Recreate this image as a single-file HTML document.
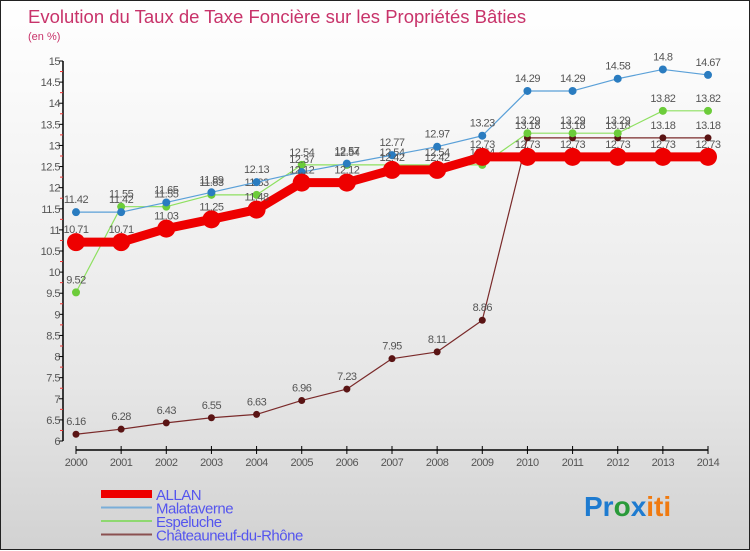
<!DOCTYPE html>
<html><head><meta charset="utf-8"><style>
body{margin:0;width:750px;height:550px;overflow:hidden;font-family:"Liberation Sans",sans-serif}
#wrap{position:relative;width:748px;height:548px;border:1px solid #222;background:linear-gradient(#fff,#fafafa 15%,#e6e6e6 70%,#d2d2d2)}
svg{position:absolute;left:0;top:0}
</style></head><body>
<div id="wrap">
<svg id="c" width="750" height="550">
<text x="27" y="22" font-size="18.5" fill="#c8336a">Evolution du Taux de Taxe Foncière sur les Propriétés Bâties</text>
<text x="27" y="39" font-size="11" fill="#c8336a">(en %)</text>
<g id="axes"></g><g id="series"></g><g id="legend"></g>
<text x="583" y="515" font-size="28" font-family="Liberation Sans" font-weight="bold"><tspan fill="#1e7bd0">Pr</tspan><tspan fill="#2a9a3a">o</tspan><tspan fill="#1e7bd0">x</tspan><tspan fill="#f07a10">iti</tspan></text>
</svg></div>
<script>
const years=[2000,2001,2002,2003,2004,2005,2006,2007,2008,2009,2010,2011,2012,2013,2014];
const yTicks=[6,6.5,7,7.5,8,8.5,9,9.5,10,10.5,11,11.5,12,12.5,13,13.5,14,14.5,15];
const allan=[10.71,10.71,11.03,11.25,11.48,12.12,12.12,12.42,12.42,12.73,12.73,12.73,12.73,12.73,12.73];
const malataverne=[11.42,11.42,11.65,11.89,12.13,12.37,12.57,12.77,12.97,13.23,14.29,14.29,14.58,14.8,14.67];
const espeluche=[9.52,11.55,11.55,11.83,11.83,12.54,12.54,12.54,12.54,12.54,13.29,13.29,13.29,13.82,13.82];
const chateauneuf=[6.16,6.28,6.43,6.55,6.63,6.96,7.23,7.95,8.11,8.86,13.18,13.18,13.18,13.18,13.18];
const NS="http://www.w3.org/2000/svg";
const X=i=>75+i*(707-75)/(years.length-1);
const Y=v=>440-(v-6)*(380/9);
function mk(t,a,p){const e=document.createElementNS(NS,t);for(const k in a)e.setAttribute(k,a[k]);p.appendChild(e);return e;}
const ax=document.getElementById('axes');
let l=mk('line',{x1:62,y1:60,x2:62,y2:440,stroke:'#000','stroke-width':1.5},ax);


l=mk('line',{x1:75,y1:449,x2:707,y2:449,stroke:'#000','stroke-width':1.5},ax);


yTicks.forEach((v,i)=>{
 mk('line',{x1:58,y1:Y(v),x2:62,y2:Y(v),stroke:'#000'},ax);
 if(i<yTicks.length-1)mk('line',{x1:59,y1:Y(v+0.25),x2:62,y2:Y(v+0.25),stroke:'#e33'},ax);
 const t=mk('text',{x:59,y:Y(v)+4,'font-size':11,'text-anchor':'end',fill:'#555','letter-spacing':'-0.5'},ax);
 t.textContent=v;
 
 
});
years.forEach((yr,i)=>{
 mk('line',{x1:X(i),y1:445,x2:X(i),y2:453,stroke:'#000'},ax);
 const t=mk('text',{x:X(i),y:465,'font-size':11,'text-anchor':'middle',fill:'#555','letter-spacing':'-0.5'},ax);
 t.textContent=yr;
 
 
});
const sg=document.getElementById('series');
const defs=[
 {d:chateauneuf,c:'#7a2a2a',w:1.2,r:3.5,fc:'#5a1414',n:'chateauneuf'},
 {d:espeluche,c:'#8ee060',w:1.2,r:4,fc:'#6ccc3a',n:'espeluche'},
 {d:malataverne,c:'#5aa0d8',w:1.2,r:4,fc:'#2a7cc0',n:'malataverne'},
 {d:allan,c:'#ee0000',w:9,r:9,fc:'#ee0000',n:'allan'}];
defs.forEach(s=>{
 const g=mk('g',{},sg);
 
 
 const p=mk('polyline',{points:s.d.map((v,i)=>X(i)+','+Y(v)).join(' '),fill:'none',stroke:s.c,'stroke-width':s.w,'stroke-linejoin':'round'},g);
 
 
 s.d.forEach((v,i)=>{
  const c=mk('circle',{cx:X(i),cy:Y(v),r:s.r,fill:s.fc},g);
  
  
  const t=mk('text',{x:X(i),y:Y(v)-9,'font-size':11,'text-anchor':'middle',fill:'#555','letter-spacing':'-0.5'},g);
  t.textContent=v;
  
  
 });
});
const lg=document.getElementById('legend');
[['ALLAN','#ee0000',8],['Malataverne','#7aaed8',2],['Espeluche','#8ed870',2],['Châteauneuf-du-Rhône','#8a5050',2]].forEach((e,i)=>{
 const y=493+i*13.5;
 const r=mk('line',{x1:100,y1:y,x2:151,y2:y,stroke:e[1],'stroke-width':e[2]},lg);
 
 
 const t=mk('text',{x:155,y:y+6,'font-size':15,fill:'#5555ee','letter-spacing':'-0.5'},lg);
 t.textContent=e[0];
 
 
});
</script>
</body></html>
